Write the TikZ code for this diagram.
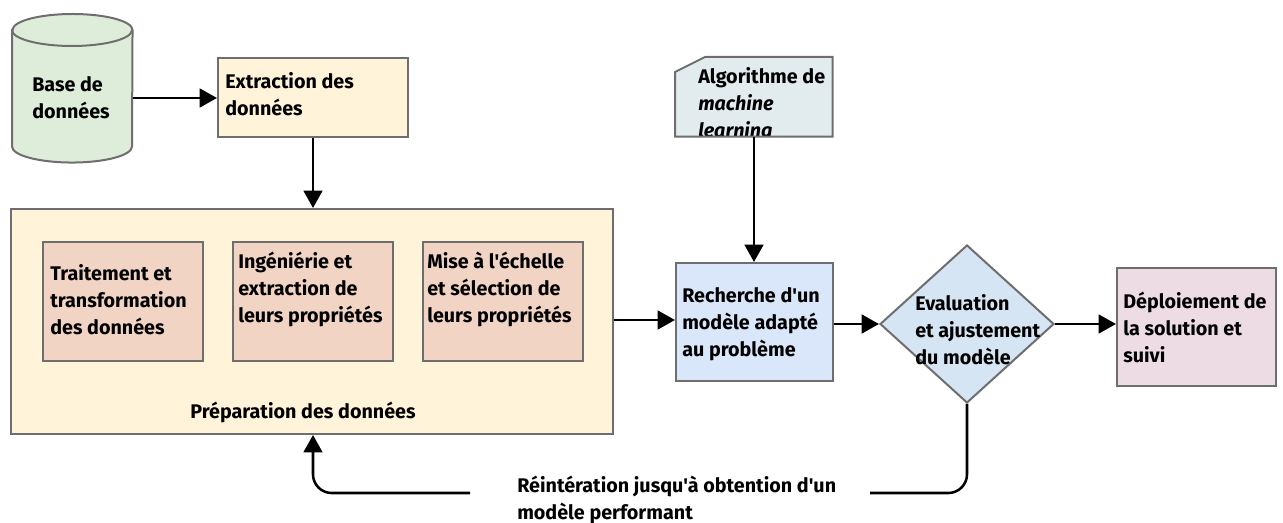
\documentclass[tikz,border=0pt]{standalone}
\usepackage{fontspec}
\setmainfont{Fira Sans}[Ligatures=TeXOff]
\usetikzlibrary{shapes.geometric,arrows.meta,calc}
\definecolor{edge}{HTML}{6E6E6E}
\definecolor{dbfill}{HTML}{DDEDDA}
\definecolor{yel}{HTML}{FFF3D9}
\definecolor{salmon}{HTML}{F2D4C4}
\definecolor{algofill}{HTML}{E2EBEE}
\definecolor{bluefill}{HTML}{DAE6FA}
\definecolor{diafill}{HTML}{D6E5F3}
\definecolor{pinkfill}{HTML}{EEDCE4}
\tikzset{
  box/.style={draw=edge, line width=1.5pt, anchor=north west, inner sep=0pt},
  txt/.style={anchor=north west, align=left, inner sep=0pt},
  flow/.style={line width=1.9pt, -{Triangle[length=13pt,width=14pt]}},
  plainline/.style={line width=1.9pt},
}
\begin{document}
\begin{tikzpicture}[x=0.75pt,y=-0.75pt,font=\bfseries\fontsize{14.8}{20.25}\selectfont]
\useasboundingbox (0,0) rectangle (1283,523);

% database cylinder (y axis points down, so arc angles are mirrored)
\node[anchor=north west, minimum width=90pt, minimum height=111pt, inner sep=0pt] (db) at (12,14) {};
\draw[edge, fill=dbfill, line width=1.5pt]
  ($(db.north west)+(0,16)$) -- ($(db.south west)+(0,-16)$)
  arc[start angle=180, end angle=0, x radius=60, y radius=16]
  -- ($(db.north east)+(0,16)$)
  arc[start angle=0, end angle=-180, x radius=60, y radius=16] -- cycle;
\draw[edge, line width=1.5pt] ($(db.north west)+(0,16)$)
  arc[start angle=180, end angle=0, x radius=60, y radius=16];
\node[txt] (dbt) at (32,76) {Base de\\données};

% extraction
\node[box, fill=yel, minimum width=142.5pt, minimum height=59.25pt] (ext) at (217,57) {};
\node[txt] (extt) at (225,72) {Extraction des\\données};

% data preparation
\node[box, fill=yel, minimum width=451.5pt, minimum height=168.75pt] (prep) at (10,208) {};
\node[box, fill=salmon, minimum width=120pt, minimum height=89.25pt] (s1) at (42,241) {};
\node[box, fill=salmon, minimum width=120pt, minimum height=89.25pt] (s2) at (232,241) {};
\node[box, fill=salmon, minimum width=120pt, minimum height=89.25pt] (s3) at (422,241) {};
\node[txt] (s1t) at (50,264) {Traitement et\\transformation\\des données};
\node[txt] (s2t) at (238,252) {Ingéniérie et\\extraction de\\leurs propriétés};
\node[txt] (s3t) at (427,252) {Mise à l'échelle\\et sélection de\\leurs propriétés};
\node[anchor=center, inner sep=0pt] (prept) at (303,412) {Préparation des données};

% machine learning algorithm card (text clipped to the card)
\node[anchor=north west, minimum width=117.75pt, minimum height=59.25pt, inner sep=0pt] (algo) at (675,57) {};
\fill[algofill] ($(algo.north west)+(30,0)$) -- (algo.north east) -- (algo.south east)
  -- (algo.south west) -- ($(algo.north west)+(0,15)$) -- cycle;
\begin{scope}
  \clip ($(algo.north west)+(30,0)$) -- (algo.north east) -- (algo.south east)
    -- (algo.south west) -- ($(algo.north west)+(0,15)$) -- cycle;
  \node[txt] (algot) at (698,67) {Algorithme de\\\textit{machine}\\\textit{learning}};
\end{scope}
\draw[edge, line width=1.5pt] ($(algo.north west)+(30,0)$) -- (algo.north east) -- (algo.south east)
  -- (algo.south west) -- ($(algo.north west)+(0,15)$) -- cycle;

% model search
\node[box, fill=bluefill, minimum width=117.75pt, minimum height=88.5pt] (search) at (675,262) {};
\node[txt] (searcht) at (682,287) {Recherche d'un\\modèle adapté\\au problème};

% evaluation
\node[draw=edge, line width=1.5pt, fill=diafill, shape=diamond, minimum width=130.5pt,
  minimum height=118.5pt, inner sep=0pt] (eval) at (967,324) {};
\node[txt] (evalt) at (915,294) {Evaluation\\et ajustement\\du modèle};

% deployment
\node[box, fill=pinkfill, minimum width=119.25pt, minimum height=88.5pt] (dep) at (1116,267) {};
\node[txt] (dept) at (1123,292) {Déploiement de\\la solution et\\suivi};

% connectors
\draw[flow] (db.east |- 0,98) -- (ext.west |- 0,98);
\draw[flow] (ext.south -| 313,0) -- (prep.north -| 313,0);
\draw[flow] (prep.east |- 0,320) -- (search.west |- 0,320);
\draw[flow] (algo.south -| 754,0) -- (search.north -| 754,0);
\draw[flow] (search.east |- eval.west) -- (eval.west);
\draw[flow] (eval.east) -- (dep.west |- eval.east);

% iteration loop
\coordinate (loopR) at (870,493);
\coordinate (loopL) at (470,493);
\draw[plainline, rounded corners=14pt] (eval.south) |- (loopR);
\draw[flow, rounded corners=14pt] (loopL) -| (prep.south -| 313,0);
\node[txt] (loopt) at (517,476) {Réintération jusqu'à obtention d'un\\modèle performant};
\end{tikzpicture}
\end{document}
